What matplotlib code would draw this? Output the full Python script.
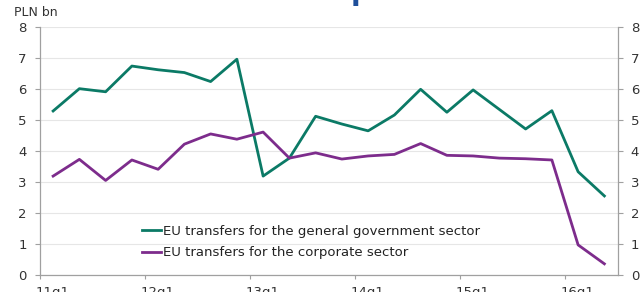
import matplotlib
matplotlib.use("Agg")
import matplotlib.pyplot as plt
import matplotlib.transforms as mtransforms
import numpy as np

quarters = ["11q1","11q2","11q3","11q4","12q1","12q2","12q3","12q4",
            "13q1","13q2","13q3","13q4","14q1","14q2","14q3","14q4",
            "15q1","15q2","15q3","15q4","16q1","16q2"]
general_gov = [5.30, 6.02, 5.92, 6.75, 6.63, 6.54, 6.25, 6.97,
               3.20, 3.78, 5.13, 4.88, 4.66, 5.17, 6.00, 5.26,
               5.98, 5.35, 4.72, 5.31, 3.34, 2.56]
corporate = [3.20, 3.74, 3.06, 3.72, 3.42, 4.23, 4.56, 4.39,
             4.62, 3.78, 3.95, 3.75, 3.85, 3.90, 4.25, 3.87,
             3.85, 3.78, 3.76, 3.72, 0.98, 0.37]
year_labels = ["11q1", "12q1", "13q1", "14q1", "15q1", "16q1"]
yticks = [0, 1, 2, 3, 4, 5, 6, 7, 8]
labels = ["EU transfers for the general government sector",
          "EU transfers for the corporate sector"]

plt.rcParams['font.family'] = ['DejaVu Sans']
W, H = 641, 292
fig = plt.figure(figsize=(W/100, H/100), dpi=100)
ax = fig.add_axes([40/W, 1-275.3/H, (617.5-40)/W, (275.3-27.3)/H])

x = np.arange(len(quarters)) + 0.5
green = '#0b7a66'
purple = '#7d2c8c'
ax.plot(x, general_gov, color=green, lw=2.0, label=labels[0])
ax.plot(x, corporate, color=purple, lw=2.0, label=labels[1])

ax.set_xlim(0, len(quarters))
ax.set_ylim(0, 8)
ax.set_yticks(yticks)
ax.set_yticklabels([str(v) for v in yticks])
ax.set_xticks(np.arange(0, len(quarters), 4))
ax.set_xticklabels(year_labels, ha='left')
ax.grid(axis='y', color='#e6e6e6', lw=0.8)
ax.set_axisbelow(True)

ax.spines['top'].set_visible(False)
for s in ['left', 'right', 'bottom']:
    ax.spines[s].set_color('#a0a0a0')
    ax.spines[s].set_linewidth(0.9)

ax.tick_params(axis='y', which='both', left=True, right=True, labelleft=True,
               labelright=True, length=3.5, color='#a0a0a0', labelsize=9.5,
               labelcolor='#333333', pad=6)
ax.tick_params(axis='x', length=3, color='#a0a0a0', labelsize=9.5,
               labelcolor='#333333', pad=5)
offset = mtransforms.ScaledTranslation(-4/100, 0, fig.dpi_scale_trans)
for lab in ax.get_xticklabels():
    lab.set_transform(lab.get_transform() + offset)

leg = ax.legend(loc='upper left', bbox_to_anchor=(0.177, 0.203), frameon=False,
                fontsize=9.5, handlelength=1.45, handletextpad=0.1,
                labelspacing=0.62, borderpad=0, borderaxespad=0)
for t in leg.get_texts():
    t.set_color('#222222')

fig.text(14/W, 1-13/H, "PLN bn", fontsize=9, color='#333333', va='center', ha='left')
fig.text(351/W, 1.0, "p", fontsize=20, color='#1f4f9a', fontweight='bold',
         va='baseline', ha='left')

fig.savefig("out.png", dpi=100)
